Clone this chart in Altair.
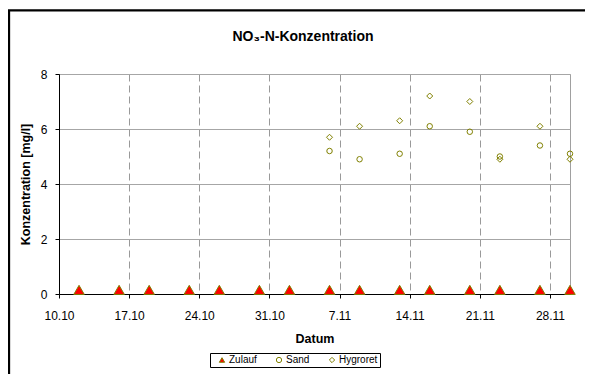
import altair as alt
import pandas as pd

# Data
zulauf_dates = ["2004-10-12", "2004-10-16", "2004-10-19", "2004-10-23", "2004-10-26",
                "2004-10-30", "2004-11-02", "2004-11-06", "2004-11-09", "2004-11-13",
                "2004-11-16", "2004-11-20", "2004-11-23", "2004-11-27", "2004-11-30"]
zulauf_values = [0.15, 0.15, 0.15, 0.15, 0.15, 0.15, 0.15, 0.15, 0.15, 0.15,
                 0.15, 0.15, 0.15, 0.15, 0.15]

filter_dates = ["2004-11-06", "2004-11-09", "2004-11-13", "2004-11-16",
                "2004-11-20", "2004-11-23", "2004-11-27", "2004-11-30"]
sand_values = [5.2, 4.9, 5.1, 6.1, 5.9, 5.0, 5.4, 5.1]
hygroret_values = [5.7, 6.1, 6.3, 7.2, 7.0, 4.9, 6.1, 4.9]

series = ["Zulauf", "Sand", "Hygroret"]
tick_dates = [(2004, 10, 10), (2004, 10, 17), (2004, 10, 24), (2004, 10, 31),
              (2004, 11, 7), (2004, 11, 14), (2004, 11, 21), (2004, 11, 28)]
y_ticks = [0, 2, 4, 6, 8]
title_text = "NO₃-N-Konzentration"

rows = []
for d, v in zip(zulauf_dates, zulauf_values):
    rows.append({"Datum": d, "Wert": v, "Serie": "Zulauf"})
for d, v in zip(filter_dates, sand_values):
    rows.append({"Datum": d, "Wert": v, "Serie": "Sand"})
for d, v in zip(filter_dates, hygroret_values):
    rows.append({"Datum": d, "Wert": v, "Serie": "Hygroret"})
df = pd.DataFrame(rows)

OLIVE = "#808000"
W, H = 511, 220
PAD = {"left": 51, "top": 66, "right": 15, "bottom": 80}

x_enc = alt.X(
    "Datum:T",
    scale=alt.Scale(type="utc",
                    domain=[alt.DateTime(year=2004, month=10, date=10, utc=True),
                            alt.DateTime(year=2004, month=11, date=30, utc=True)]),
    axis=alt.Axis(
        values=[alt.DateTime(year=y, month=m, date=d, utc=True) for (y, m, d) in tick_dates],
        format="%-d.%m",
        title="Datum",
        grid=True, gridDash=[7, 4], gridColor="#999999", gridWidth=1,
        tickSize=4, tickColor="black", domainColor="black",
        labelFontSize=12, labelPadding=12, labelColor="black", labelFlush=False,
        titleFontSize=12.5, titleFontWeight="bold", titlePadding=11, titleColor="black",
    ),
)
y_enc = alt.Y(
    "Wert:Q",
    scale=alt.Scale(domain=[0, 8], nice=False),
    axis=alt.Axis(
        values=y_ticks, title="Konzentration [mg/l]",
        grid=True, gridColor="#A6A6A6", gridWidth=1,
        tickSize=4, tickColor="black", domainColor="black",
        labelFontSize=12, labelPadding=8, labelColor="black", labelFlush=False,
        titleFontSize=12.5, titleFontWeight="bold", titlePadding=8, titleColor="black",
    ),
)

legend = alt.Legend(
    title=None, orient="none", legendX=151, legendY=279, direction="horizontal",
    strokeColor="black", fillColor="white", padding=2, symbolOffset=5,
    labelFontSize=10, labelColor="black", symbolSize=28, symbolStrokeWidth=1,
    columnPadding=12, labelOffset=2,
)
shape_enc = alt.Shape("Serie:N", scale=alt.Scale(domain=series,
                      range=["triangle-up", "circle", "diamond"]), legend=legend)
fill_enc = alt.Fill("Serie:N", scale=alt.Scale(domain=series,
                    range=["#FF0000", "transparent", "transparent"]), legend=legend)
stroke_enc = alt.Stroke("Serie:N", scale=alt.Scale(domain=series,
                        range=[OLIVE, OLIVE, OLIVE]), legend=legend)

base = alt.Chart(df).encode(x=x_enc, y=y_enc, shape=shape_enc, fill=fill_enc, stroke=stroke_enc)

tri = base.transform_filter(alt.datum.Serie == "Zulauf").mark_point(
    size=110, strokeWidth=1, opacity=1)
circ = base.transform_filter(alt.datum.Serie == "Sand").mark_point(
    size=30, strokeWidth=1, opacity=1)
dia = base.transform_filter(alt.datum.Serie == "Hygroret").mark_point(
    size=36, strokeWidth=1, opacity=1)

one = pd.DataFrame({"t": [title_text]})
frame = alt.Chart(one).mark_rect(
    filled=False, color="black", strokeWidth=2.3
).encode(x=alt.value(-50), x2=alt.value(540), y=alt.value(-63.7), y2=alt.value(320))

title = alt.Chart(one).mark_text(
    fontSize=14, fontWeight="bold", color="black", align="center", baseline="alphabetic"
).encode(text="t:N", x=alt.value(244), y=alt.value(-33))

chart = alt.layer(frame, title, tri, circ, dia).properties(
    width=W, height=H,
    autosize=alt.AutoSizeParams(type="none"),
    padding=PAD,
).configure(
    font="Liberation Sans",
    background="white",
).configure_view(
    stroke="#A0A0A0", strokeWidth=1,
)

chart.save("out.html", embed_options={"renderer": "svg", "actions": False})
